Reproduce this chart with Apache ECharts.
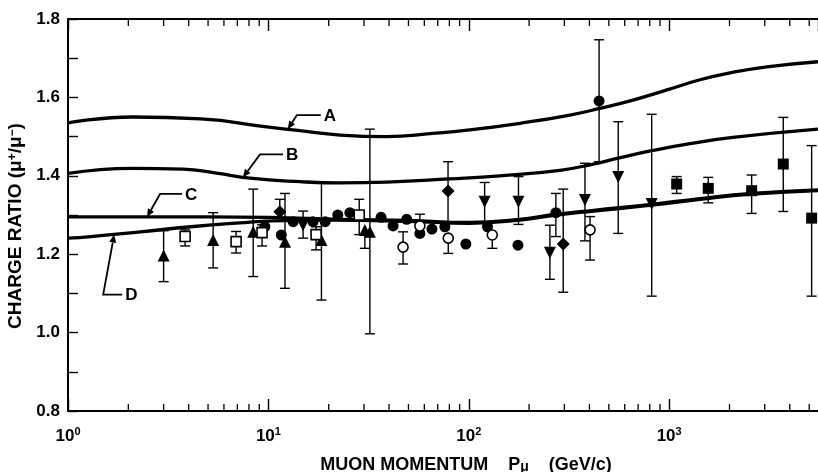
<!DOCTYPE html>
<html>
<head>
<meta charset="utf-8">
<script src="https://cdn.jsdelivr.net/npm/echarts@6/dist/echarts.min.js"></script>
<style>
  html, body { margin: 0; padding: 0; background: #fff; }
  #chart { width: 818px; height: 472px; }
</style>
</head>
<body>
<div id="chart"></div>
<script>
// muon charge ratio vs momentum
const xMin = 1, xMax = 5530;
const yMin = 0.8, yMax = 1.8;

// model curves [momentum GeV/c, ratio]
const curveA = [[1,1.535],[2.1,1.55],[4.6,1.545],[9.8,1.525],[14.4,1.515],[22.8,1.504],[39,1.500],[66,1.508],[101,1.517],[180,1.534],[320,1.555],[451,1.572],[660,1.593],[975,1.619],[1425,1.645],[2080,1.664],[3075,1.678],[5530,1.691]];
const curveB = [[1,1.406],[2.1,1.419],[3.75,1.417],[5.5,1.407],[8.1,1.394],[14.4,1.385],[22.8,1.382],[39,1.384],[80,1.392],[143,1.400],[285,1.414],[418,1.430],[557,1.445],[818,1.464],[1270,1.482],[2080,1.498],[5530,1.519]];
const curveC = [[1,1.295],[5,1.295],[10,1.294],[22.8,1.289],[50,1.286],[101,1.281],[180,1.289],[275,1.302],[420,1.312],[818,1.327],[1425,1.342],[2600,1.355],[5530,1.364]];
const curveD = [[1,1.241],[1.3,1.245],[2.3,1.257],[4.1,1.270],[7.2,1.280],[10.5,1.285],[20,1.287],[50,1.284],[101,1.279],[180,1.287],[275,1.300],[420,1.310],[818,1.325],[1425,1.340],[2600,1.353],[5530,1.362]];

// measurements [momentum, ratio, low, high]  (low/high == ratio -> no bar on that side)
const triUp = [[3.0,1.197,1.13,1.26],[5.3,1.236,1.165,1.306],[8.4,1.257,1.143,1.366],[12.1,1.232,1.113,1.355],[18.4,1.236,1.083,1.381],[30.3,1.262,1.215,1.262],[32.1,1.257,0.997,1.519]];
const openSquare = [[3.84,1.245,1.221,1.262],[6.9,1.232,1.203,1.258],[9.3,1.255,1.221,1.275],[17.3,1.25,1.211,1.27],[28.4,1.30,1.25,1.34]];
const filledCircle = [[9.6,1.27,1.27,1.27],[11.6,1.249,1.249,1.249],[13.3,1.283,1.283,1.283],[16.7,1.283,1.283,1.283],[19.2,1.283,1.283,1.283],[22.2,1.30,1.30,1.30],[25.5,1.306,1.306,1.306],[36.5,1.294,1.294,1.294],[41.9,1.272,1.272,1.272],[49,1.289,1.289,1.289],[57,1.253,1.253,1.253],[65.5,1.264,1.264,1.264],[76,1.27,1.27,1.27],[96.7,1.226,1.226,1.226],[124,1.27,1.27,1.27],[176,1.223,1.223,1.223],[272,1.306,1.245,1.355],[447,1.591,1.436,1.747]];
const openCircle = [[47,1.218,1.175,1.257],[57,1.272,1.272,1.302],[79,1.241,1.202,1.241],[131,1.249,1.215,1.249],[403,1.262,1.185,1.296]];
const diamond = [[11.4,1.308,1.308,1.34],[78.8,1.361,1.28,1.436],[296,1.226,1.103,1.366]];
const triDown = [[14.9,1.274,1.241,1.31],[120,1.334,1.28,1.383],[177,1.334,1.276,1.398],[254,1.204,1.136,1.274],[380,1.338,1.234,1.432],[557,1.397,1.253,1.538],[818,1.328,1.093,1.557]];
const filledSquare = [[1090,1.379,1.355,1.398],[1567,1.368,1.331,1.396],[2580,1.362,1.304,1.402],[3710,1.430,1.309,1.549],[5140,1.292,1.093,1.477]];

// minor log ticks
const minorTickValues = [2,3,4,5,6,7,8,9,20,30,40,50,60,70,80,90,200,300,400,500,600,700,800,900,2000,3000,4000,5000];

// curve tags: name and the point on the curve the arrow touches
const tagNames = ['A', 'B', 'C', 'D'];
const tagX = [12.5, 7.47, 2.48, 1.70];
const tagY = [1.519, 1.396, 1.295, 1.250];

const FONT = "'Liberation Sans', Arial, sans-serif";
// leader geometry in px relative to the arrow tip: bend, end of the horizontal stroke
const leaderGeom = {
  A: { bend: [9, -14], end: [33, -14] },
  B: { bend: [17, -23], end: [40, -23] },
  C: { bend: [13, -23], end: [35, -23] },
  D: { bend: [-11, 60], end: [8, 60] }
};

const allBars = [].concat(triUp, openSquare, filledCircle, openCircle, diamond, triDown, filledSquare)
  .filter(d => d[2] < d[1] || d[3] > d[1]);

const chart = echarts.init(document.getElementById('chart'));

function curve(data) {
  return {
    type: 'line', data: data, smooth: 0.5, showSymbol: false, silent: true,
    lineStyle: { color: '#000', width: 3.3 }, z: 2, animation: false
  };
}
function marks(data, symbol, size, open, rotate) {
  return {
    type: 'scatter', data: data.map(d => [d[0], d[1]]), symbol: symbol, symbolSize: size,
    symbolRotate: rotate || 0, z: 5, animation: false,
    itemStyle: open ? { color: '#fff', borderColor: '#000', borderWidth: 1.6, opacity: 1 }
                    : { color: '#000', opacity: 1 }
  };
}

const option = {
  animation: false,
  backgroundColor: '#fff',
  grid: { left: 68, right: 0, top: 19, bottom: 61, outerBoundsMode: 'none' },
  xAxis: [{
    type: 'log', logBase: 10, min: xMin, max: xMax, position: 'bottom',
    axisLine: { show: true, lineStyle: { color: '#000', width: 2 } },
    axisTick: { show: true, inside: true, length: 12, lineStyle: { color: '#000', width: 1.4 } },
    splitLine: { show: false },
    axisLabel: {
      margin: 15, showMaxLabel: false,
      formatter: v => '{b|10}{s|' + Math.round(Math.log10(v)) + '}',
      rich: {
        b: { fontFamily: FONT, fontWeight: 'bold', fontSize: 17, color: '#000', lineHeight: 20 },
        s: { fontFamily: FONT, fontWeight: 'bold', fontSize: 11, color: '#000', verticalAlign: 'top', lineHeight: 11 }
      }
    },
    name: '{n|MUON MOMENTUM    P}{u|μ}{n|    (GeV/c)}',
    nameLocation: 'middle', nameGap: 45,
    nameTextStyle: {
      padding: [0, 0, 0, 46],
      rich: {
        n: { fontFamily: FONT, fontWeight: 'bold', fontSize: 18, color: '#000' },
        u: { fontFamily: FONT, fontWeight: 'bold', fontSize: 14, color: '#000', verticalAlign: 'bottom' }
      }
    }
  }, {
    type: 'log', logBase: 10, min: xMin, max: xMax, position: 'top',
    axisLine: { show: true, lineStyle: { color: '#000', width: 2 } },
    axisTick: { show: true, inside: true, length: 12, lineStyle: { color: '#000', width: 1.4 } },
    axisLabel: { show: false }, splitLine: { show: false }
  }],
  yAxis: [{
    type: 'value', min: yMin, max: yMax, interval: 0.1,
    axisLine: { show: true, lineStyle: { color: '#000', width: 2 } },
    axisTick: { show: true, inside: true, length: 10, lineStyle: { color: '#000', width: 1.4 } },
    splitLine: { show: false },
    axisLabel: {
      margin: 8, fontFamily: FONT, fontWeight: 'bold', fontSize: 17, color: '#000',
      formatter: v => (Math.round(v * 10) % 2 === 0 ? v.toFixed(1) : '')
    },
    name: '{n|CHARGE RATIO (μ}{s|+}{n|/μ}{s|−}{n|)}',
    nameLocation: 'middle', nameGap: 36, nameRotate: 90,
    nameTextStyle: {
      padding: [0, 22, 0, 0],
      rich: {
        n: { fontFamily: FONT, fontWeight: 'bold', fontSize: 19, color: '#000' },
        s: { fontFamily: FONT, fontWeight: 'bold', fontSize: 12, color: '#000', verticalAlign: 'top' }
      }
    }
  }],
  series: [
    curve(curveA), curve(curveB), curve(curveC), curve(curveD),
    {
      // minor log ticks on bottom and top frame
      type: 'custom', data: minorTickValues.map(v => [v, yMin]), encode: { x: 0, y: 1 },
      clip: false, silent: true, z: 1,
      renderItem: (params, api) => {
        const v = api.value(0);
        const b = api.coord([v, yMin]), t = api.coord([v, yMax]);
        const st = { stroke: '#000', lineWidth: 1.3 };
        return { type: 'group', children: [
          { type: 'line', shape: { x1: b[0], y1: b[1], x2: b[0], y2: b[1] - 7 }, style: st },
          { type: 'line', shape: { x1: t[0], y1: t[1], x2: t[0], y2: t[1] + 7 }, style: st }
        ] };
      }
    },
    {
      // error bars with caps
      type: 'custom', data: allBars, encode: { x: 0, y: 1 }, clip: false, silent: true, z: 3,
      renderItem: (params, api) => {
        const x = api.value(0), y = api.value(1), lo = api.value(2), hi = api.value(3);
        const pLo = api.coord([x, lo]), pHi = api.coord([x, hi]);
        const st = { stroke: '#000', lineWidth: 1.4 };
        const kids = [{ type: 'line', shape: { x1: pLo[0], y1: pLo[1], x2: pHi[0], y2: pHi[1] }, style: st }];
        if (lo < y) kids.push({ type: 'line', shape: { x1: pLo[0] - 5, y1: pLo[1], x2: pLo[0] + 5, y2: pLo[1] }, style: st });
        if (hi > y) kids.push({ type: 'line', shape: { x1: pHi[0] - 5, y1: pHi[1], x2: pHi[0] + 5, y2: pHi[1] }, style: st });
        return { type: 'group', children: kids };
      }
    },
    marks(filledCircle, 'circle', 11, false),
    marks(openCircle, 'circle', 10, true),
    marks(triUp, 'triangle', 12, false),
    marks(triDown, 'triangle', 12, false, 180),
    marks(openSquare, 'rect', 10, true),
    marks(filledSquare, 'rect', 11, false),
    marks(diamond, 'diamond', 13, false),
    {
      // curve tags with leader arrows
      type: 'custom', data: tagNames.map((n, i) => [tagX[i], tagY[i]]), encode: { x: 0, y: 1 },
      clip: false, silent: true, z: 6,
      renderItem: (params, api) => {
        const name = tagNames[params.dataIndex];
        const g = leaderGeom[name];
        const tip = api.coord([api.value(0), api.value(1)]);
        const bend = [tip[0] + g.bend[0], tip[1] + g.bend[1]];
        const end = [tip[0] + g.end[0], tip[1] + g.end[1]];
        const dx = tip[0] - bend[0], dy = tip[1] - bend[1];
        const len = Math.sqrt(dx * dx + dy * dy);
        const ux = dx / len, uy = dy / len;
        const back = [tip[0] - ux * 8, tip[1] - uy * 8];
        const st = { stroke: '#000', lineWidth: 1.8, fill: null };
        return { type: 'group', children: [
          { type: 'polyline', shape: { points: [back, bend, end] }, style: st },
          { type: 'polygon', shape: { points: [tip, [back[0] - uy * 3.5, back[1] + ux * 3.5], [back[0] + uy * 3.5, back[1] - ux * 3.5]] },
            style: { fill: '#000' } },
          { type: 'text', x: end[0] + 3, y: end[1] + 1,
            style: { text: name, fontFamily: FONT, fontWeight: 'bold', fontSize: 17, fill: '#000',
                     align: 'left', verticalAlign: 'middle' } }
        ] };
      }
    }
  ]
};

chart.setOption(option);
</script>
</body>
</html>
